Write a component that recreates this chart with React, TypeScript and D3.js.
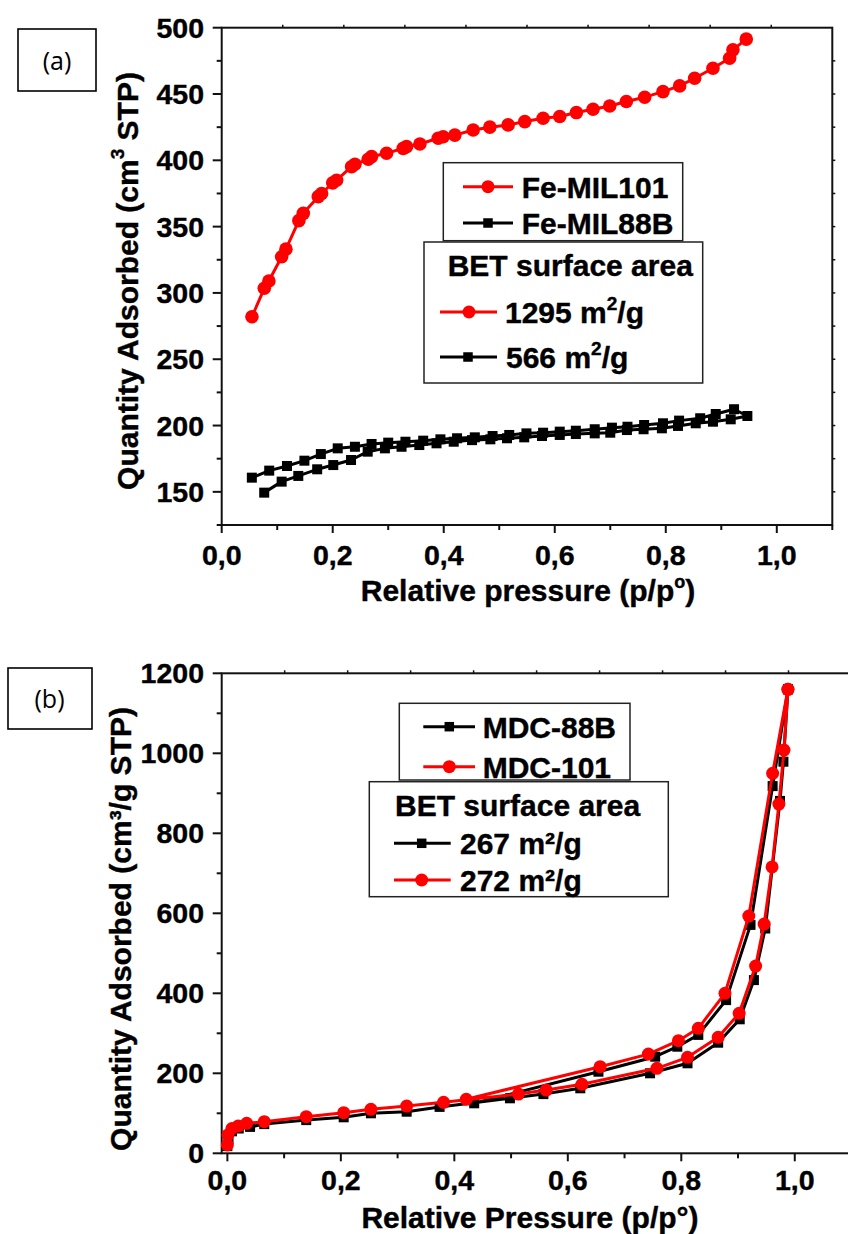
import React from 'react';
import * as d3 from 'd3';

const FONT = '"Liberation Sans", Arial, sans-serif';
const LABEL_FONT = '"Open Sans", "Noto Sans", sans-serif';
const RED = '#ff0000';
const BLACK = '#000000';

// ---------- Panel (a) data ----------
const aXTicks = [0, 0.2, 0.4, 0.6, 0.8, 1.0];
const aXMinor = [0.1, 0.3, 0.5, 0.7, 0.9, 1.1];
const aYTicks = [150, 200, 250, 300, 350, 400, 450, 500];
const aYMinor = [125, 175, 225, 275, 325, 375, 425, 475];

const feMil101: [number, number][] = [
  [0.0545, 282], [0.0767, 303.5], [0.085, 309], [0.108, 327.3], [0.1157, 333],
  [0.139, 354.5], [0.147, 360], [0.174, 372.6], [0.18, 375], [0.2, 383],
  [0.207, 385], [0.234, 395.2], [0.24, 397], [0.264, 400.8], [0.27, 402.8],
  [0.297, 405.3], [0.327, 409], [0.333, 410.3], [0.357, 412.3], [0.39, 416.6],
  [0.399, 417.8], [0.42, 419], [0.453, 422.9], [0.483, 425], [0.516, 426.7],
  [0.546, 429.2], [0.579, 431.7], [0.609, 433], [0.639, 436], [0.669, 438.5],
  [0.699, 441], [0.729, 444.3], [0.762, 447.6], [0.795, 451.8], [0.825, 456.1],
  [0.852, 461.9], [0.885, 469.4], [0.915, 477], [0.921, 483.3], [0.945, 491.4],
];

const feMil88bAds: [number, number][] = [
  [0.0766, 149.4], [0.108, 157.7], [0.138, 162], [0.172, 167], [0.201, 170.2],
  [0.233, 174], [0.263, 180.3], [0.294, 182.8], [0.324, 184], [0.356, 185.3],
  [0.387, 186.6], [0.418, 187.8], [0.451, 189], [0.484, 189.6], [0.514, 190.4],
  [0.545, 191.1], [0.577, 192.1], [0.609, 192.9], [0.638, 193.6], [0.672, 194.1],
  [0.7, 194.6], [0.73, 196.6], [0.76, 197.2], [0.793, 197.9], [0.822, 199.7],
  [0.854, 201.7], [0.885, 202.9], [0.917, 204.7], [0.947, 207.2],
];
const feMil88bDes: [number, number][] = [
  [0.923, 212.3], [0.89, 208.7], [0.862, 205.5], [0.824, 203.7], [0.795, 201.7],
  [0.761, 200.4], [0.731, 199.1], [0.703, 198.4], [0.672, 197.2], [0.638, 196.1],
  [0.609, 195.4], [0.579, 194.6], [0.549, 194.1], [0.518, 192.9], [0.488, 192.1],
  [0.456, 191.1], [0.424, 190.4], [0.394, 189.6], [0.363, 188.6], [0.331, 187.8],
  [0.3, 187.1], [0.27, 186.1], [0.24, 184], [0.209, 182.8], [0.1786, 178.5],
  [0.149, 173.5], [0.1176, 169.5], [0.0856, 166], [0.0543, 160.7],
];

// ---------- Panel (b) data ----------
const bXTicks = [0, 0.2, 0.4, 0.6, 0.8, 1.0];
const bXMinor = [0.1, 0.3, 0.5, 0.7, 0.9];
const bYTicks = [0, 200, 400, 600, 800, 1000, 1200];
const bYMinor = [100, 300, 500, 700, 900, 1100];

const mdc101Ads: [number, number][] = [
  [0.0, 21], [0.001, 46], [0.008, 62], [0.019, 68], [0.034, 75], [0.065, 79],
  [0.139, 91.5], [0.205, 101.5], [0.253, 110], [0.316, 118], [0.381, 127.5],
  [0.513, 148], [0.562, 158], [0.625, 172.5], [0.757, 212.5], [0.811, 240],
  [0.865, 290], [0.902, 350], [0.931, 468], [0.946, 573], [0.96, 716],
  [0.972, 873], [0.981, 1008], [0.988, 1160],
];
const mdc101Des: [number, number][] = [
  [0.988, 1160], [0.961, 950], [0.919, 593], [0.877, 400], [0.83, 312.5],
  [0.795, 281.5], [0.742, 248], [0.657, 216.5], [0.421, 135],
];
const mdc88bAds: [number, number][] = [
  [0.0, 18], [0.002, 35], [0.008, 55], [0.02, 62], [0.04, 66], [0.065, 73],
  [0.139, 83], [0.205, 90], [0.253, 100], [0.316, 104], [0.374, 116],
  [0.498, 137.5], [0.557, 148], [0.622, 162.5], [0.745, 200], [0.811, 225],
  [0.865, 276.5], [0.903, 335], [0.928, 433], [0.948, 562], [0.974, 881],
  [0.98, 979], [0.988, 1160],
];
const mdc88bDes: [number, number][] = [
  [0.988, 1160], [0.961, 918], [0.922, 571], [0.879, 383], [0.83, 296],
  [0.793, 266.5], [0.754, 241.5], [0.654, 204], [0.435, 125],
];

const fmtX = (v: number) => d3.format('.1f')(v).replace('.', ',');

type Pt = [number, number];

function Markers({ data, x, y, kind, color, size }: any) {
  return (
    <g>
      {data.map((d: Pt, i: number) =>
        kind === 'circle' ? (
          <circle key={i} cx={x(d[0])} cy={y(d[1])} r={size} fill={color} />
        ) : (
          <rect key={i} x={x(d[0]) - size / 2} y={y(d[1]) - size / 2} width={size} height={size} fill={color} />
        )
      )}
    </g>
  );
}

function Series({ data, x, y, color, kind, size }: any) {
  const line = d3.line<Pt>().x((d) => x(d[0])).y((d) => y(d[1]));
  return (
    <g>
      <path d={line(data) || ''} fill="none" stroke={color} strokeWidth={3} strokeLinejoin="round" />
      <Markers data={data} x={x} y={y} kind={kind} color={color} size={size} />
    </g>
  );
}

const tickTxt = { fontFamily: FONT, fontWeight: 'bold' as const, fontSize: 28.5, stroke: '#000', strokeWidth: 0.4 };
const txt = { fontFamily: FONT, fontWeight: 'bold' as const, fontSize: 30, stroke: '#000', strokeWidth: 0.4 };

function Axes({ x, y, xTicks, xMinor, yTicks, yMinor, yFmt }: any) {
  const [x0, x1] = x.range();
  const [y0, y1] = y.range();
  const topTicks = d3.range(1, 10).map((k) => x0 + ((x1 - x0) * k) / 10);
  const rightTicks = d3.range(1, 15).map((k) => y0 + ((y1 - y0) * k) / 15);
  return (
    <g>
      <rect x={x0} y={y1} width={x1 - x0} height={y0 - y1} fill="none" stroke="#111" strokeWidth={2} />
      {topTicks.map((t, i) => (
        <line key={'tt' + i} x1={t} x2={t} y1={y1} y2={y1 - 3} stroke="#111" strokeWidth={1.5} />
      ))}
      {rightTicks.map((t, i) => (
        <line key={'rt' + i} x1={x1} x2={x1 + 3} y1={t} y2={t} stroke="#111" strokeWidth={1.5} />
      ))}
      {xTicks.map((t: number) => (
        <line key={'xt' + t} x1={x(t)} x2={x(t)} y1={y0} y2={y0 + 8} stroke="#111" strokeWidth={2} />
      ))}
      {xMinor.map((t: number) => (
        <line key={'xm' + t} x1={x(t)} x2={x(t)} y1={y0} y2={y0 + 5} stroke="#111" strokeWidth={2} />
      ))}
      {yTicks.map((t: number) => (
        <g key={'yt' + t}>
          <line x1={x0} x2={x0 - 9} y1={y(t)} y2={y(t)} stroke="#111" strokeWidth={2} />
          <text x={204} y={y(t) + 10} textAnchor="end" {...tickTxt}>
            {yFmt(t)}
          </text>
        </g>
      ))}
      {yMinor.map((t: number) => (
        <line key={'ym' + t} x1={x0} x2={x0 - 5} y1={y(t)} y2={y(t)} stroke="#111" strokeWidth={2} />
      ))}
    </g>
  );
}

function LegendRow({ cx, cy, color, kind, x1, x2, size }: any) {
  return (
    <g>
      <line x1={x1} x2={x2} y1={cy} y2={cy} stroke={color} strokeWidth={3} />
      {kind === 'circle' ? (
        <circle cx={cx} cy={cy} r={size} fill={color} />
      ) : (
        <rect x={cx - size / 2} y={cy - size / 2} width={size} height={size} fill={color} />
      )}
    </g>
  );
}

export default function App() {
  // Panel (a) scales
  const xa = d3.scaleLinear().domain([0, 1.1]).range([221.7, 832.3]);
  const ya = d3.scaleLinear().domain([125, 500]).range([525, 27.7]);
  // Panel (b) scales
  const xb = d3.scaleLinear().domain([-0.01, 1.1]).range([221.7, 851.5]);
  const yb = d3.scaleLinear().domain([0, 1200]).range([1153.3, 673.3]);

  return (
    <svg width={848} height={1234} style={{ position: 'absolute', left: 0, top: 0, background: '#fff' }}>
      <rect x={0} y={0} width={848} height={1234} fill="#fff" />

      {/* ---------------- Panel (a) ---------------- */}
      <rect x={18} y={29} width={78} height={62} fill="#fff" stroke="#000" strokeWidth={1.6} />
      <text x={57} y={70} textAnchor="middle" fontFamily={LABEL_FONT} fontSize={25}>(a)</text>

      <Axes x={xa} y={ya} xTicks={aXTicks} xMinor={aXMinor} yTicks={aYTicks} yMinor={aYMinor} yFmt={(v: number) => String(v)} />
      {aXTicks.map((t) => (
        <text key={'axl' + t} x={xa(t)} y={565} textAnchor="middle" {...tickTxt}>{fmtX(t)}</text>
      ))}
      <text x={528} y={601} textAnchor="middle" {...txt}>
        Relative pressure (p/p<tspan dy={-13} fontSize={18}>o</tspan><tspan dy={13}>)</tspan>
      </text>
      <text transform="translate(138,281) rotate(-90)" textAnchor="middle" {...txt}>
        Quantity Adsorbed (cm<tspan dy={-14} fontSize={19}>3</tspan><tspan dy={14}> STP)</tspan>
      </text>

      <Series data={feMil101} x={xa} y={ya} color={RED} kind="circle" size={6.8} />
      <Series data={[...feMil88bAds, ...feMil88bDes]} x={xa} y={ya} color={BLACK} kind="rect" size={10} />

      {/* legend (a) */}
      <rect x={443.3} y={162.7} width={239.4} height={78} fill="#fff" stroke="#222" strokeWidth={1.5} />
      <LegendRow cx={488} cy={186.7} x1={463} x2={513} color={RED} kind="circle" size={6.5} />
      <text x={521.7} y={197.5} {...txt}>Fe-MIL101</text>
      <LegendRow cx={488} cy={223} x1={463} x2={513} color={BLACK} kind="rect" size={9.5} />
      <text x={521.7} y={234} {...txt}>Fe-MIL88B</text>

      <rect x={424} y={242} width={278.7} height={141} fill="#fff" stroke="#222" strokeWidth={1.5} />
      <text x={447.7} y={276} {...txt}>BET surface area</text>
      <LegendRow cx={469} cy={312} x1={440} x2={497} color={RED} kind="circle" size={6.5} />
      <text x={505} y={323} {...txt}>1295 m<tspan dy={-13} fontSize={19}>2</tspan><tspan dy={13}>/g</tspan></text>
      <LegendRow cx={468} cy={357} x1={440} x2={497} color={BLACK} kind="rect" size={9.5} />
      <text x={506} y={368} {...txt}>566 m<tspan dy={-13} fontSize={19}>2</tspan><tspan dy={13}>/g</tspan></text>

      {/* ---------------- Panel (b) ---------------- */}
      <rect x={8} y={668} width={84} height={61} fill="#fff" stroke="#000" strokeWidth={1.6} />
      <text x={49.5} y={708} textAnchor="middle" fontFamily={LABEL_FONT} fontSize={25}>(b)</text>

      <Axes x={xb} y={yb} xTicks={bXTicks} xMinor={bXMinor} yTicks={bYTicks} yMinor={bYMinor} yFmt={(v: number) => String(v)} />
      {bXTicks.map((t) => (
        <text key={'bxl' + t} x={xb(t)} y={1190} textAnchor="middle" {...tickTxt}>{fmtX(t)}</text>
      ))}
      <text x={530} y={1228} textAnchor="middle" {...txt}>Relative Pressure (p/p°)</text>
      <text transform="translate(131,929) rotate(-90)" textAnchor="middle" {...txt}>
        Quantity Adsorbed (cm³/g STP)
      </text>

      <Series data={[...mdc88bAds, ...mdc88bDes]} x={xb} y={yb} color={BLACK} kind="rect" size={10} />
      <Series data={[...mdc101Ads, ...mdc101Des]} x={xb} y={yb} color={RED} kind="circle" size={6.5} />

      {/* legend (b) */}
      <rect x={399.3} y={703.3} width={230.7} height={76.7} fill="#fff" stroke="#222" strokeWidth={1.5} />
      <LegendRow cx={449.3} cy={726.7} x1={423.3} x2={475} color={BLACK} kind="rect" size={9.5} />
      <text x={482.7} y={737.5} {...txt}>MDC-88B</text>
      <LegendRow cx={449.3} cy={766.7} x1={423.3} x2={475} color={RED} kind="circle" size={6.5} />
      <text x={482.7} y={777.5} {...txt}>MDC-101</text>

      <rect x={369.3} y={781.7} width={299} height={115} fill="#fff" stroke="#222" strokeWidth={1.5} />
      <text x={395} y={816} {...txt}>BET surface area</text>
      <LegendRow cx={421.7} cy={843.3} x1={394} x2={450.7} color={BLACK} kind="rect" size={9.5} />
      <text x={460} y={854} {...txt}>267 m²/g</text>
      <LegendRow cx={421.7} cy={880} x1={394} x2={450.7} color={RED} kind="circle" size={6.5} />
      <text x={460} y={891} {...txt}>272 m²/g</text>
    </svg>
  );
}
